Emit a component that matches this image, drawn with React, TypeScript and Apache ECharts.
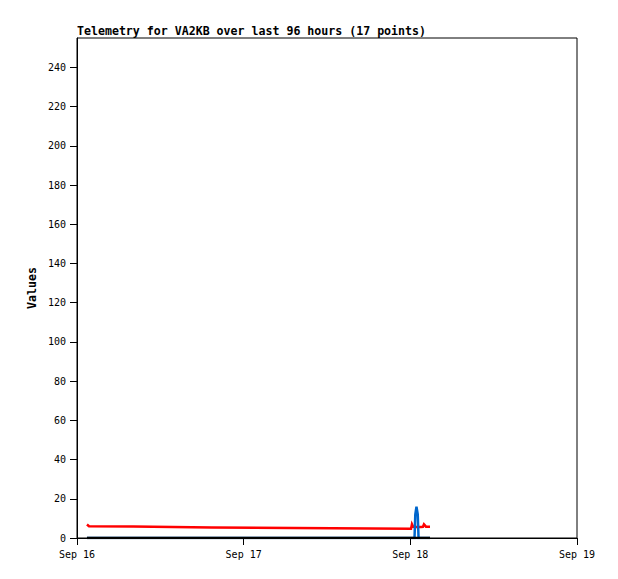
import React, { useEffect, useRef } from "react";
import * as echarts from "echarts";

const titleText = "Telemetry for VA2KB over last 96 hours (17 points)";
const yAxisTitle = "Values";
const xTickLabels = ["Sep 16", "Sep 17", "Sep 18", "Sep 19"];
const axisStart = "2024-09-16 00:00";

const times = [
  "2024-09-16 01:26",
  "2024-09-16 01:44",
  "2024-09-16 08:04",
  "2024-09-16 19:26",
  "2024-09-18 00:06",
  "2024-09-18 00:14",
  "2024-09-18 00:23",
  "2024-09-18 00:36",
  "2024-09-18 00:43",
  "2024-09-18 00:53",
  "2024-09-18 01:04",
  "2024-09-18 01:11",
  "2024-09-18 01:32",
  "2024-09-18 01:49",
  "2024-09-18 01:58",
  "2024-09-18 02:15",
  "2024-09-18 02:50",
];
const redValues = [6.9, 6.0, 5.9, 5.3, 4.7, 7.0, 5.8, 5.6, 5.6, 5.6, 5.6, 5.6, 5.6, 5.7, 7.0, 5.8, 5.8];
const blueValues = [0, 0, 0, 0, 0, 0, 0, 0, 12, 16, 12, 0, 0, 0, 0, 0, 0];
const blackValues = [0, 0, 0, 0, 0, 0, 0, 0, 0, 0, 0, 0, 0, 0, 0, 0, 0];

function toMs(s: string): number {
  const [d, t] = s.split(" ");
  const [y, m, day] = d.split("-").map(Number);
  const [hh, mm] = t.split(":").map(Number);
  return Date.UTC(y, m - 1, day, hh, mm);
}
const startMs = toMs(axisStart);
const hours = times.map((t) => (toMs(t) - startMs) / 3600000);

export default function App() {
  const ref = useRef<HTMLDivElement>(null);
  useEffect(() => {
    document.body.style.margin = "0";
    const chart = echarts.init(ref.current!, null, { renderer: "svg" });
    const mono = "DejaVu Sans Mono";
    const mk = (vals: number[], color: string, width: number, z: number) => ({
      type: "line",
      data: hours.map((h, i) => [h, vals[i]]),
      showSymbol: false,
      symbol: "none",
      lineStyle: { color, width, join: "miter" },
      z,
    });
    chart.setOption({
      animation: false,
      backgroundColor: "#ffffff",
      grid: {
        left: 77,
        right: 41,
        top: 38,
        bottom: 41,
        show: true,
        borderColor: "#000",
        borderWidth: 1,
        backgroundColor: "transparent",
      },
      graphic: [
        {
          type: "text",
          x: 77,
          y: 31,
          style: {
            text: titleText,
            font: `bold 11.6px "${mono}"`,
            fill: "#000",
            align: "left",
            verticalAlign: "middle",
          },
        },
        {
          type: "text",
          x: 32,
          y: 288,
          rotation: Math.PI / 2,
          style: {
            text: yAxisTitle,
            font: `bold 11.6px "${mono}"`,
            fill: "#000",
            align: "center",
            verticalAlign: "middle",
          },
        },
      ],
      xAxis: {
        type: "value",
        min: 0,
        max: 72,
        interval: 24,
        axisLine: { show: true, lineStyle: { color: "#000", width: 1 } },
        axisTick: { show: true, length: 7, lineStyle: { color: "#000" } },
        splitLine: { show: false },
        axisLabel: {
          margin: 11,
          fontFamily: mono,
          fontSize: 10,
          color: "#000",
          formatter: (_v: number, i: number) => xTickLabels[i] ?? "",
        },
      },
      yAxis: {
        type: "value",
        min: 0,
        max: 255,
        interval: 20,
        axisLine: { show: true, lineStyle: { color: "#000", width: 1 } },
        axisTick: { show: true, length: 7, lineStyle: { color: "#000" } },
        splitLine: { show: false },
        axisLabel: {
          margin: 11,
          fontFamily: mono,
          fontSize: 10,
          color: "#000",
          showMaxLabel: false,
          formatter: (v: number) => (v > 240 ? "" : String(v)),
        },
      },
      series: [
        mk(redValues, "#ff0000", 2.5, 2),
        mk(blueValues, "#0066cc", 2.5, 3),
        mk(blackValues, "#000000", 2.5, 4),
      ],
    });
    return () => chart.dispose();
  }, []);
  return <div ref={ref} style={{ width: 618, height: 579 }} />;
}
